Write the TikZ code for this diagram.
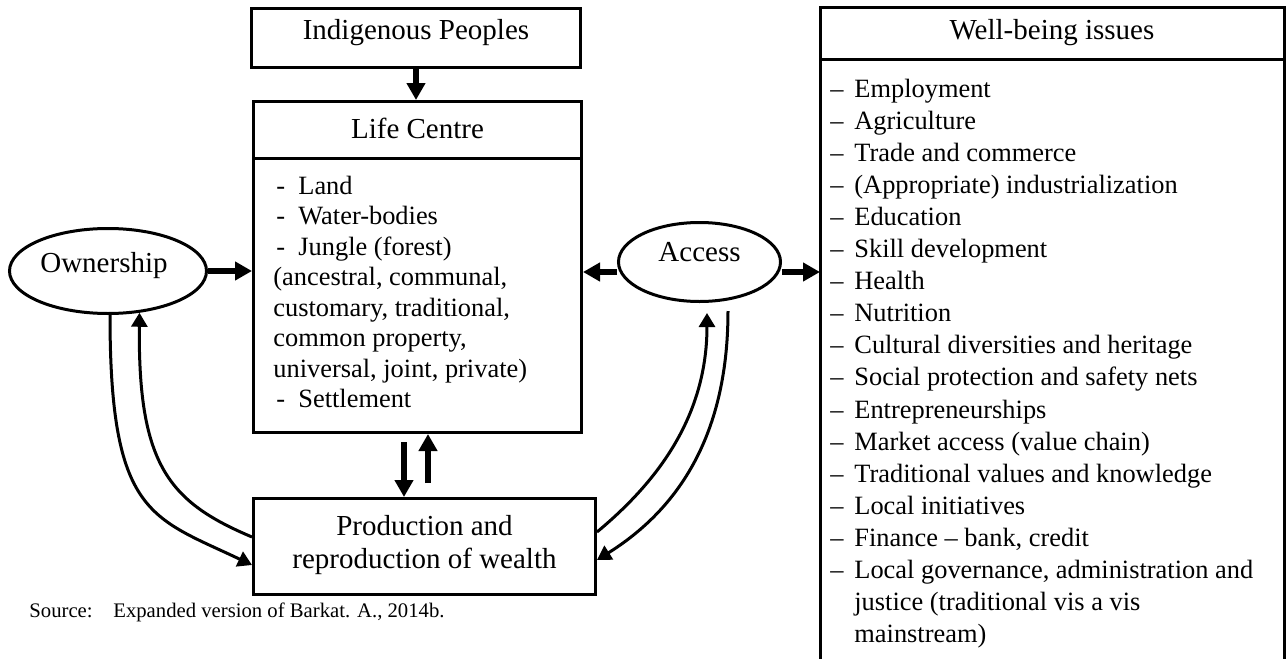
\documentclass[tikz,border=0pt]{standalone}
\usepackage{fontspec}
\setmainfont{Liberation Serif}
\usetikzlibrary{arrows.meta,shapes.geometric,calc}
\newcommand{\hy}[1]{\makebox[11pt][l]{-}#1}
\newcommand{\dsh}[1]{\makebox[12pt][l]{–}#1}
\begin{document}
\begin{tikzpicture}[x=0.5pt,y=-0.5pt]
\tikzset{
  box/.style={draw, line width=1.5pt, inner sep=0pt},
  ell/.style={draw, ellipse, line width=1.5pt, inner sep=0pt},
  bigarrow/.style={line width=3pt, -{Triangle[length=8.5pt,width=9pt]}},
  curvearrow/.style={line width=1.5pt, -{Triangle[length=7pt,width=8pt]}},
  ttl/.style={font=\fontsize{14.5}{17}\selectfont, inner sep=0pt, anchor=base},
  body/.style={font=\fontsize{13.2}{15}\selectfont, inner sep=0pt, anchor=base west},
  src/.style={font=\fontsize{10.35}{12}\selectfont, inner sep=0pt, anchor=base west},
}
\useasboundingbox (0,0) rectangle (1287,659);

% boxes
\node[box, minimum width=164.5pt, minimum height=29.5pt] (ip) at (416,38) {};
\node[ttl] (ipt) at (416,39) {Indigenous Peoples};

\node[box, minimum width=164pt, minimum height=165.5pt] (lc) at (417.5,267) {};
\coordinate (d1) at (0,158);
\draw[line width=1.5pt] (lc.west |- d1) -- (lc.east |- d1);
\node[ttl] (lct) at (417.5,138) {Life Centre};

\node[body] (l1) at (276,194) {\hy{Land}};
\node[body] (l2) at (276,224.5) {\hy{Water-bodies}};
\node[body] (l3) at (276,255) {\hy{Jungle (forest)}};
\node[body] (l4) at (273,285.5) {(ancestral, communal,};
\node[body] (l5) at (273,316) {customary, traditional,};
\node[body] (l6) at (273,346.5) {common property,};
\node[body] (l7) at (273,377) {universal, joint, private)};
\node[body] (l8) at (276,407.5) {\hy{Settlement}};

\node[box, minimum width=171pt, minimum height=48pt] (pr) at (424.5,546.5) {};
\node[ttl] (pr1) at (424.5,535) {Production and};
\node[ttl] (pr2) at (424.5,568) {reproduction of wealth};

% ellipses
\node[ell, minimum width=98.5pt, minimum height=42.5pt] (own) at (108,271) {};
\node[ttl] (ownt) at (104,272) {Ownership};
\node[ell, minimum width=81pt, minimum height=39.5pt] (acc) at (699.5,262) {};
\node[ttl] (acct) at (699.5,261) {Access};

% well-being box (open at the bottom)
\node[minimum width=230.5pt, minimum height=325.25pt, inner sep=0pt, outer sep=0.75pt] (wb) at (1052,333.75) {};
\draw[line width=1.5pt] (wb.south west) -- (wb.north west) -- (wb.north east) -- (wb.south east);
\coordinate (d2) at (0,59);
\draw[line width=1.5pt] (wb.west |- d2) -- (wb.east |- d2);
\node[ttl] (wbt) at (1052,39) {Well-being issues};

\node[body] (w1) at (830,97) {\dsh{Employment}};
\node[body] (w2) at (830,129.1) {\dsh{Agriculture}};
\node[body] (w3) at (830,161.2) {\dsh{Trade and commerce}};
\node[body] (w4) at (830,193.3) {\dsh{(Appropriate) industrialization}};
\node[body] (w5) at (830,225.4) {\dsh{Education}};
\node[body] (w6) at (830,257.5) {\dsh{Skill development}};
\node[body] (w7) at (830,289.6) {\dsh{Health}};
\node[body] (w8) at (830,321.7) {\dsh{Nutrition}};
\node[body] (w9) at (830,353.8) {\dsh{Cultural diversities and heritage}};
\node[body] (w10) at (830,385.9) {\dsh{Social protection and safety nets}};
\node[body] (w11) at (830,418) {\dsh{Entrepreneurships}};
\node[body] (w12) at (830,450.1) {\dsh{Market access (value chain)}};
\node[body] (w13) at (830,482.2) {\dsh{Traditional values and knowledge}};
\node[body] (w14) at (830,514.3) {\dsh{Local initiatives}};
\node[body] (w15) at (830,546.4) {\dsh{Finance – bank, credit}};
\node[body] (w16) at (830,578.5) {\dsh{Local governance, administration and}};
\node[body] (w17) at (854,610.6) {justice (traditional vis a vis};
\node[body] (w18) at (854,642.7) {mainstream)};

% source
\node[src] (s1) at (29,617) {Source:};
\node[src] (s2) at (113,617) {Expanded version of Barkat. A., 2014b.};

% straight arrows
\draw[bigarrow] (ip.south) -- (ip.south |- lc.north);
\draw[bigarrow] (own.east) -- (own.east -| lc.west);
\coordinate (accL) at ([yshift=-5pt]acc.west);
\coordinate (accR) at ([yshift=-5pt]acc.east);
\draw[bigarrow] (accL) -- (accL -| lc.east);
\draw[bigarrow] (accR) -- (accR -| wb.west);
\coordinate (dx) at (404,0);
\coordinate (ux) at (428,0);
\draw[bigarrow] ($(lc.south -| dx)+(0,8)$) -- (pr.north -| dx);
\draw[bigarrow] ($(pr.north -| ux)+(0,-14)$) -- (lc.south -| ux);

% curved arrows
\draw[curvearrow] ([xshift=1pt]own.south) .. controls (110,515) and (151,517) .. ([yshift=-9.25pt]pr.west);
\draw[curvearrow] ([yshift=4.75pt]pr.west) .. controls (169,502) and (138,465) .. (own.-53);
\draw[curvearrow] ([yshift=7.25pt]pr.east) .. controls (651,487) and (707,422) .. ([shift={(3.75pt,-5pt)}]acc.south);
\draw[curvearrow] ([shift={(14.25pt,-4pt)}]acc.south) .. controls (728,441) and (673.5,512) .. ([yshift=-6.75pt]pr.east);
\end{tikzpicture}
\end{document}
